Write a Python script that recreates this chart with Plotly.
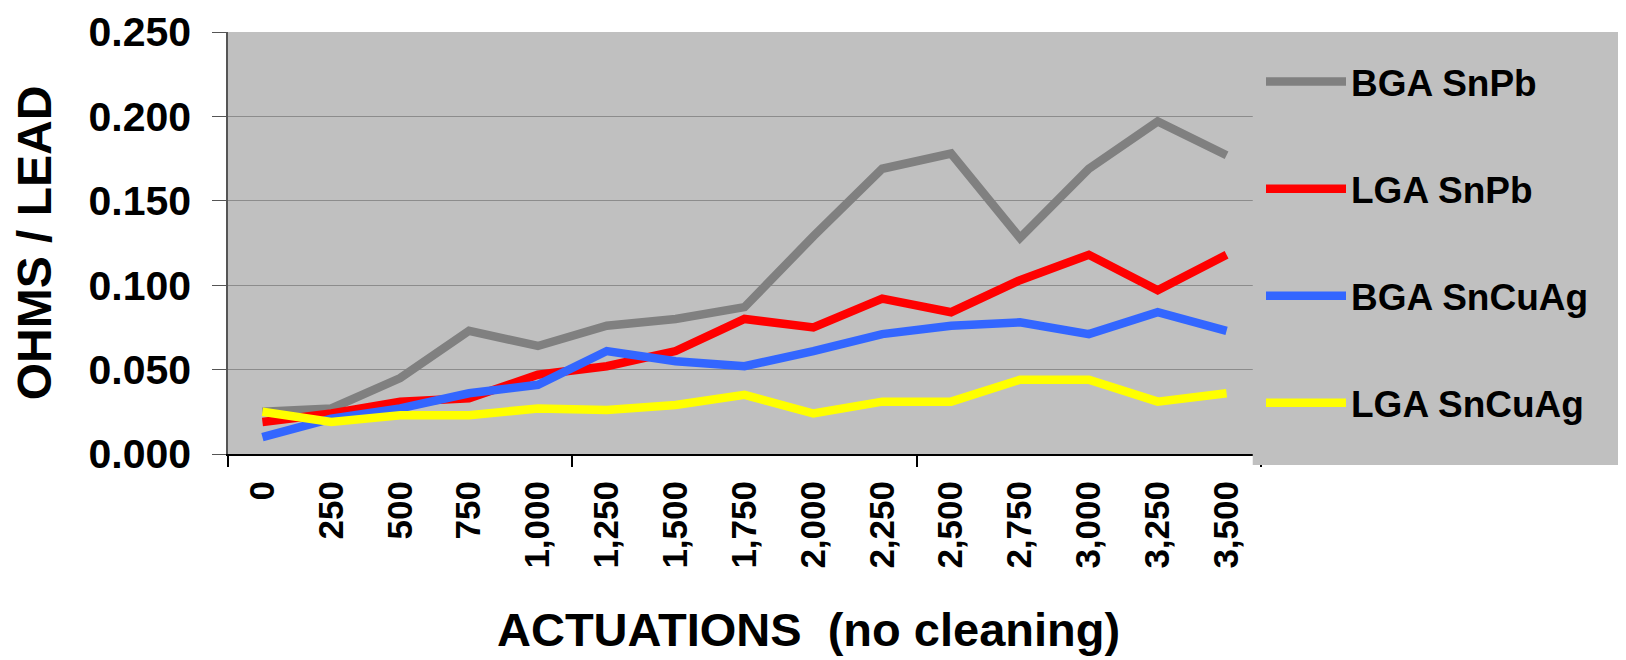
import plotly.graph_objects as go

# categorias do eixo x (numero de acionamentos)
actuations = ["0", "250", "500", "750", "1,000", "1,250", "1,500", "1,750",
              "2,000", "2,250", "2,500", "2,750", "3,000", "3,250", "3,500"]

bga_snpb = [0.025, 0.027, 0.045, 0.073, 0.064, 0.076, 0.080, 0.087,
            0.129, 0.169, 0.178, 0.128, 0.169, 0.197, 0.177]
lga_snpb = [0.019, 0.024, 0.031, 0.033, 0.047, 0.052, 0.061, 0.080,
            0.075, 0.092, 0.084, 0.103, 0.118, 0.097, 0.118]
bga_sncuag = [0.010, 0.021, 0.027, 0.036, 0.041, 0.061, 0.055, 0.052,
              0.061, 0.071, 0.076, 0.078, 0.071, 0.084, 0.073]
lga_sncuag = [0.025, 0.019, 0.023, 0.023, 0.027, 0.026, 0.029, 0.035,
              0.024, 0.031, 0.031, 0.044, 0.044, 0.031, 0.036]

y_ticks = [0.0, 0.05, 0.10, 0.15, 0.20, 0.25]

series = [("BGA SnPb", bga_snpb, "#808080"),
          ("LGA SnPb", lga_snpb, "#FF0000"),
          ("BGA SnCuAg", bga_sncuag, "#3366FF"),
          ("LGA SnCuAg", lga_sncuag, "#FFFF00")]

font_family = "Liberation Sans, Arial, sans-serif"

fig = go.Figure()
for name, vals, color in series:
    fig.add_trace(go.Scatter(x=actuations, y=vals, mode="lines", name=name,
                             legendgroup=name,
                             line={"color": color, "width": 8.5}))

# eixo auxiliar so para os tracos a cada 5 categorias
fig.add_trace(go.Scatter(x=[0, 14], y=[0, 0], xaxis="x2", mode="lines",
                         line={"color": "rgba(0,0,0,0)"}, showlegend=False,
                         hoverinfo="skip"))

# a pagina tem 8px de margem no body, por isso l/t menores
fig.update_layout(
    width=1626, height=660,
    margin=dict(l=220, r=373, t=24, b=214),
    paper_bgcolor="white",
    plot_bgcolor="#C0C0C0",
    font={"family": font_family, "color": "black", "weight": "bold"},
    showlegend=True,
    legend=dict(x=1.0, xanchor="left", y=0.955, yanchor="top",
                bgcolor="rgba(0,0,0,0)", tracegroupgap=56, itemwidth=80,
                font={"size": 37, "family": font_family, "weight": "bold"}),
    xaxis=dict(type="category", range=[-0.5, 14.5], automargin=False,
               showgrid=False, ticks="", tickangle=-90,
               tickfont={"size": 35}, ticklabelstandoff=11,
               ticklabeloverflow="allow",
               showline=True, linecolor="black", linewidth=2),
    xaxis2=dict(overlaying="x", range=[-0.5, 14.5], tickvals=[-0.5, 4.5, 9.5, 14.5],
                showticklabels=False, ticks="outside", ticklen=12, tickwidth=1.5,
                tickcolor="black", showgrid=False, zeroline=False, anchor="y",
                automargin=False),
    yaxis=dict(range=[0, 0.25], tickvals=y_ticks, tickformat=".3f", automargin=False,
               tickfont={"size": 41}, ticks="outside", ticklen=14, tickcolor="#555555",
               ticklabelstandoff=13, ticklabeloverflow="allow",
               showgrid=True, gridcolor="#8C8C8C", gridwidth=1,
               showline=True, linecolor="#555555", linewidth=1.5, zeroline=False,
               title={"text": "OHMS / LEAD", "font": {"size": 48}, "standoff": 30}),
    annotations=[dict(text="ACTUATIONS  (no cleaning)", xref="paper", yref="paper",
                      x=0.5615, y=0, xanchor="center", yanchor="middle", yshift=-175,
                      showarrow=False, font={"size": 47})],
    shapes=[dict(type="rect", xref="paper", yref="paper", x0=0.992, x1=1.3505,
                 y0=-0.026, y1=1.0, fillcolor="#C0C0C0", line={"width": 0},
                 layer="above")],
)

fig.write_html("out.html")
